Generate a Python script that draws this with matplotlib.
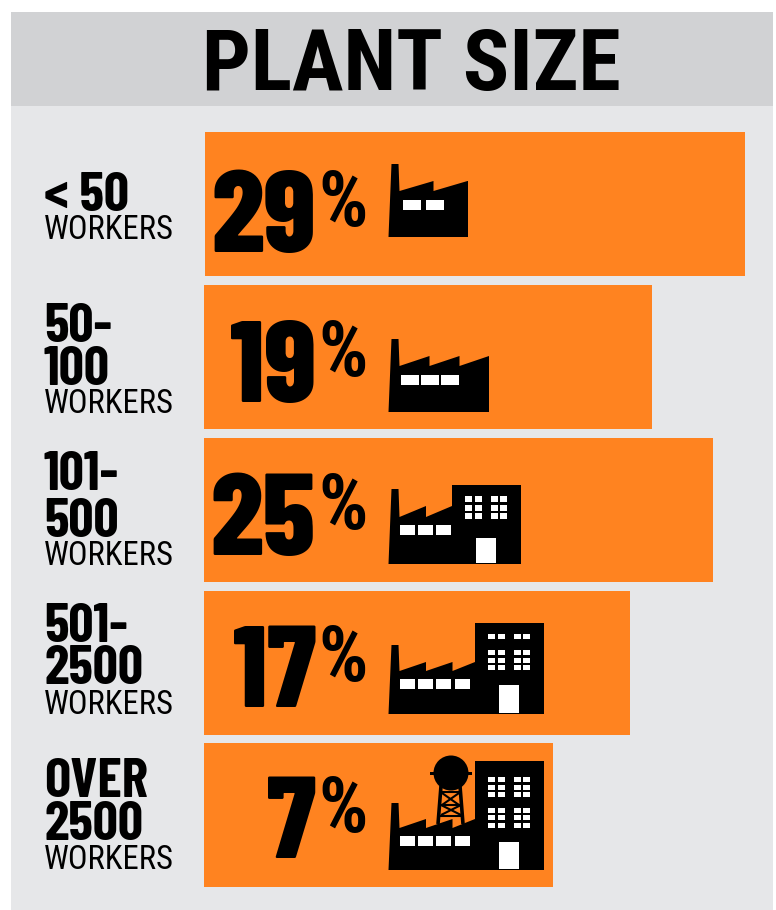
import matplotlib
matplotlib.use("Agg")
import matplotlib.pyplot as plt
from matplotlib.patches import Circle, Polygon, Rectangle

title = "PLANT SIZE"
size_labels = [["< 50"], ["50-", "100"], ["101-", "500"], ["501-", "2500"], ["OVER", "2500"]]
unit_label = "WORKERS"
percents = [29, 19, 25, 17, 7]
# bar lengths are not to scale in the original, so they are read separately
bar_lengths = [540, 448, 509, 426, 349]

ORANGE = "#ff8320"
HEAVY = ["Barlow Condensed", "Liberation Sans", "DejaVu Sans"]
LIGHT = ["Roboto Condensed", "Liberation Sans", "DejaVu Sans"]

fig = plt.figure(figsize=(7.76, 9.10), dpi=100)
ax = fig.add_axes([0, 0, 1, 1])
ax.set_xlim(0, 776)
ax.set_ylim(910, 0)
ax.axis("off")


def box(x0, y0, x1, y1, color, z=1):
    ax.add_patch(Rectangle((x0, y0), x1 - x0, y1 - y0, fc=color, ec="none", zorder=z))


def windows(xs, ys, w, h):
    for x in xs:
        for y in ys:
            box(x, y, x + w, y + h, "white", 5)


def factory(base, top, right, n_teeth, tooth_w, tooth_h, roof_y, win_xs, win_y, win_w):
    # chimney and saw tooth roof, top is the chimney top and base the floor
    pts = [(388.5, base), (391.5, top), (398.5, top), (399.5, roof_y)]
    x = 399.5
    for i in range(n_teeth):
        x = min(x + tooth_w, right)
        pts += [(x, roof_y - tooth_h), (x, roof_y)]
    pts[-1] = (right, roof_y - tooth_h)
    pts.append((right, base))
    ax.add_patch(Polygon(pts, closed=True, fc="black", ec="none", zorder=4))
    windows(win_xs, [win_y], win_w, 10)


def building(x0, top, base, door_h, rows):
    box(x0, top, x0 + 69, base, "black", 4)
    for ys, h in rows:
        windows([x0 + 13, x0 + 23, x0 + 39, x0 + 48], ys, 7, h)
    box(x0 + 24, base - door_h, x0 + 44, base - 1, "white", 5)


box(11, 12, 773, 106, "#d1d2d4")
box(11, 106, 773, 910, "#e6e7e9")
ax.text(411, 90, title, family=LIGHT, weight=700, fontsize=62, ha="center",
        va="baseline", color="black")

tops = [132, 285, 438, 591, 743]
lefts = [205, 204, 204, 204, 204]
ax.barh(tops, bar_lengths, height=144, left=lefts, align="edge", color=ORANGE, zorder=2)

label_baselines = [[211], [342, 385], [490, 537], [642, 684], [797, 840]]
unit_baselines = [239, 413, 565, 714, 869]
pct_baselines = [252, 402, 555, 707, 858]
for i, pct in enumerate(percents):
    for line, y in zip(size_labels[i], label_baselines[i]):
        ax.text(44, y, line, family=HEAVY, weight=700, fontsize=40, ha="left",
                va="baseline", color="black")
    ax.text(44, unit_baselines[i], unit_label, family=LIGHT, weight=400, fontsize=23.5,
            ha="left", va="baseline", color="black")
    ax.text(316, pct_baselines[i], str(pct), family=HEAVY, weight=800, fontsize=84,
            ha="right", va="baseline", color="black", zorder=3)
    ax.text(318, pct_baselines[i] - 26, "%", family=LIGHT, weight=700, fontsize=56,
            ha="left", va="baseline", color="black", zorder=3)

# factory icons
factory(237, 164, 468, 2, 34, 10, 191, [403, 426], 200, 18)
factory(412, 339, 489, 3, 30, 10, 366, [401, 421, 441], 375, 17.5)
factory(564, 489, 452, 2, 26.5, 11, 517, [400, 418, 436], 525, 15)
building(452, 485, 564, 26, [([496, 505, 513], 6)])
factory(714, 645, 475, 3, 26.5, 9, 671, [400, 418, 436, 455], 679, 15)
building(475, 623, 714, 29, [([634], 5), ([650, 658, 665], 5)])
factory(870, 803, 475, 3, 26.5, 9, 828, [400, 418, 436, 455], 836, 15)
building(475, 761, 870, 28, [([777, 785, 792, 808, 815, 823], 5)])

# water tower
ax.add_patch(Circle((451, 773), 17.5, fc="black", ec="none", zorder=4))
box(430, 771.5, 472, 774.5, "black", 4)
for x_a, y_a, x_b, y_b, lw in [(441, 786, 438, 824, 2.6), (460, 786, 463, 824, 2.6),
                               (442, 793, 459, 805, 1.5), (459, 793, 442, 805, 1.5),
                               (441, 805, 461, 815, 1.5), (461, 805, 441, 815, 1.5),
                               (441, 792, 460, 792, 1.5), (440, 805, 461, 805, 1.5),
                               (439, 816, 462, 816, 1.5)]:
    ax.plot([x_a, x_b], [y_a, y_b], color="black", lw=lw, solid_capstyle="butt", zorder=4)

fig.savefig("out.png", dpi=100, facecolor="white")
